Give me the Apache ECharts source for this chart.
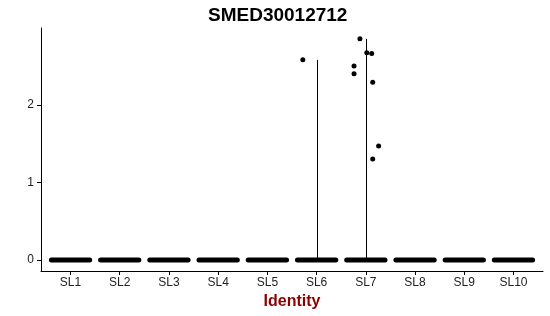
<!DOCTYPE html>
<html>
<head>
<meta charset="utf-8">
<script src="https://cdn.jsdelivr.net/npm/echarts@6/dist/echarts.min.js"></script>
<style>html,body{margin:0;padding:0;background:#fff}#c{width:550px;height:316px}</style>
</head>
<body>
<div id="c"></div>
<script>
var categories = ['SL1','SL2','SL3','SL4','SL5','SL6','SL7','SL8','SL9','SL10'];
var yTicks = [0, 1, 2];
// non-zero expression values per cluster (all other cells are 0)
var sl6Values = [2.58];
var sl6Jitter = [-0.28];
var sl7Values = [2.85, 2.67, 2.66, 2.50, 2.40, 2.29, 1.47, 1.30];
var sl7Jitter = [-0.12, 0.02, 0.12, -0.24, -0.24, 0.14, 0.26, 0.14];

var points = [];
sl6Values.forEach(function(v,i){ points.push([6 + sl6Jitter[i], v]); });
sl7Values.forEach(function(v,i){ points.push([7 + sl7Jitter[i], v]); });

var nonZero = {6: sl6Values, 7: sl7Values};
var violinData = categories.map(function(c, i){
  var vals = nonZero[i+1] || [0];
  return [i+1, 0, Math.max.apply(null, vals)];
});

var chart = echarts.init(document.getElementById('c'));
chart.setOption({
  animation: false,
  title: {
    text: 'SMED30012712', left: 203, top: 1,
    textStyle: {fontFamily: 'Liberation Sans', fontWeight: 'bold', fontSize: 19, color: '#000'}
  },
  grid: {left: 41, right: 7, top: 28, bottom: 45, outerBoundsMode: 'none', containLabel: false},
  xAxis: {
    type: 'value', min: 0.4, max: 10.6,
    name: 'Identity', nameLocation: 'middle', nameGap: 23,
    nameTextStyle: {fontFamily: 'Liberation Sans', fontWeight: 'bold', fontSize: 16, color: '#8B0000'},
    axisLine: {onZero: false, lineStyle: {color: '#000', width: 1}},
    axisTick: {show: true, length: 4, customValues: [1,2,3,4,5,6,7,8,9,10], lineStyle: {color: '#000'}},
    axisLabel: {customValues: [1,2,3,4,5,6,7,8,9,10], margin: 6, color: '#222', fontFamily: 'Liberation Sans', fontSize: 12,
      formatter: function(v){ return categories[Math.round(v)-1] || ''; }},
    splitLine: {show: false}
  },
  yAxis: {
    type: 'value', min: -0.142, max: 2.99,
    axisLine: {show: true, lineStyle: {color: '#000', width: 1}},
    axisTick: {show: true, length: 4, customValues: yTicks, lineStyle: {color: '#000'}},
    axisLabel: {customValues: yTicks, margin: 7, color: '#222', fontFamily: 'Liberation Sans', fontSize: 12},
    splitLine: {show: false}
  },
  series: [
    {
      type: 'custom',
      data: violinData,
      renderItem: function(params, api){
        var x = api.value(0), lo = api.value(1), hi = api.value(2);
        var a = api.coord([x - 0.44, 0]);
        var b = api.coord([x + 0.44, 0]);
        var children = [{
          type: 'rect',
          shape: {x: a[0], y: a[1] - 2.5, width: b[0] - a[0], height: 5, r: 2.5},
          style: {fill: '#000'}
        }];
        if (hi > lo) {
          var p0 = api.coord([x, lo]), p1 = api.coord([x, hi]);
          children.push({type: 'line', shape: {x1: Math.round(p0[0]) + 0.5, y1: p0[1], x2: Math.round(p0[0]) + 0.5, y2: p1[1]},
            style: {stroke: '#000', lineWidth: 1}});
        }
        return {type: 'group', children: children};
      }
    },
    {
      type: 'scatter',
      data: points,
      symbolSize: 5,
      itemStyle: {color: '#000', opacity: 1}
    }
  ]
});
</script>
</body>
</html>
